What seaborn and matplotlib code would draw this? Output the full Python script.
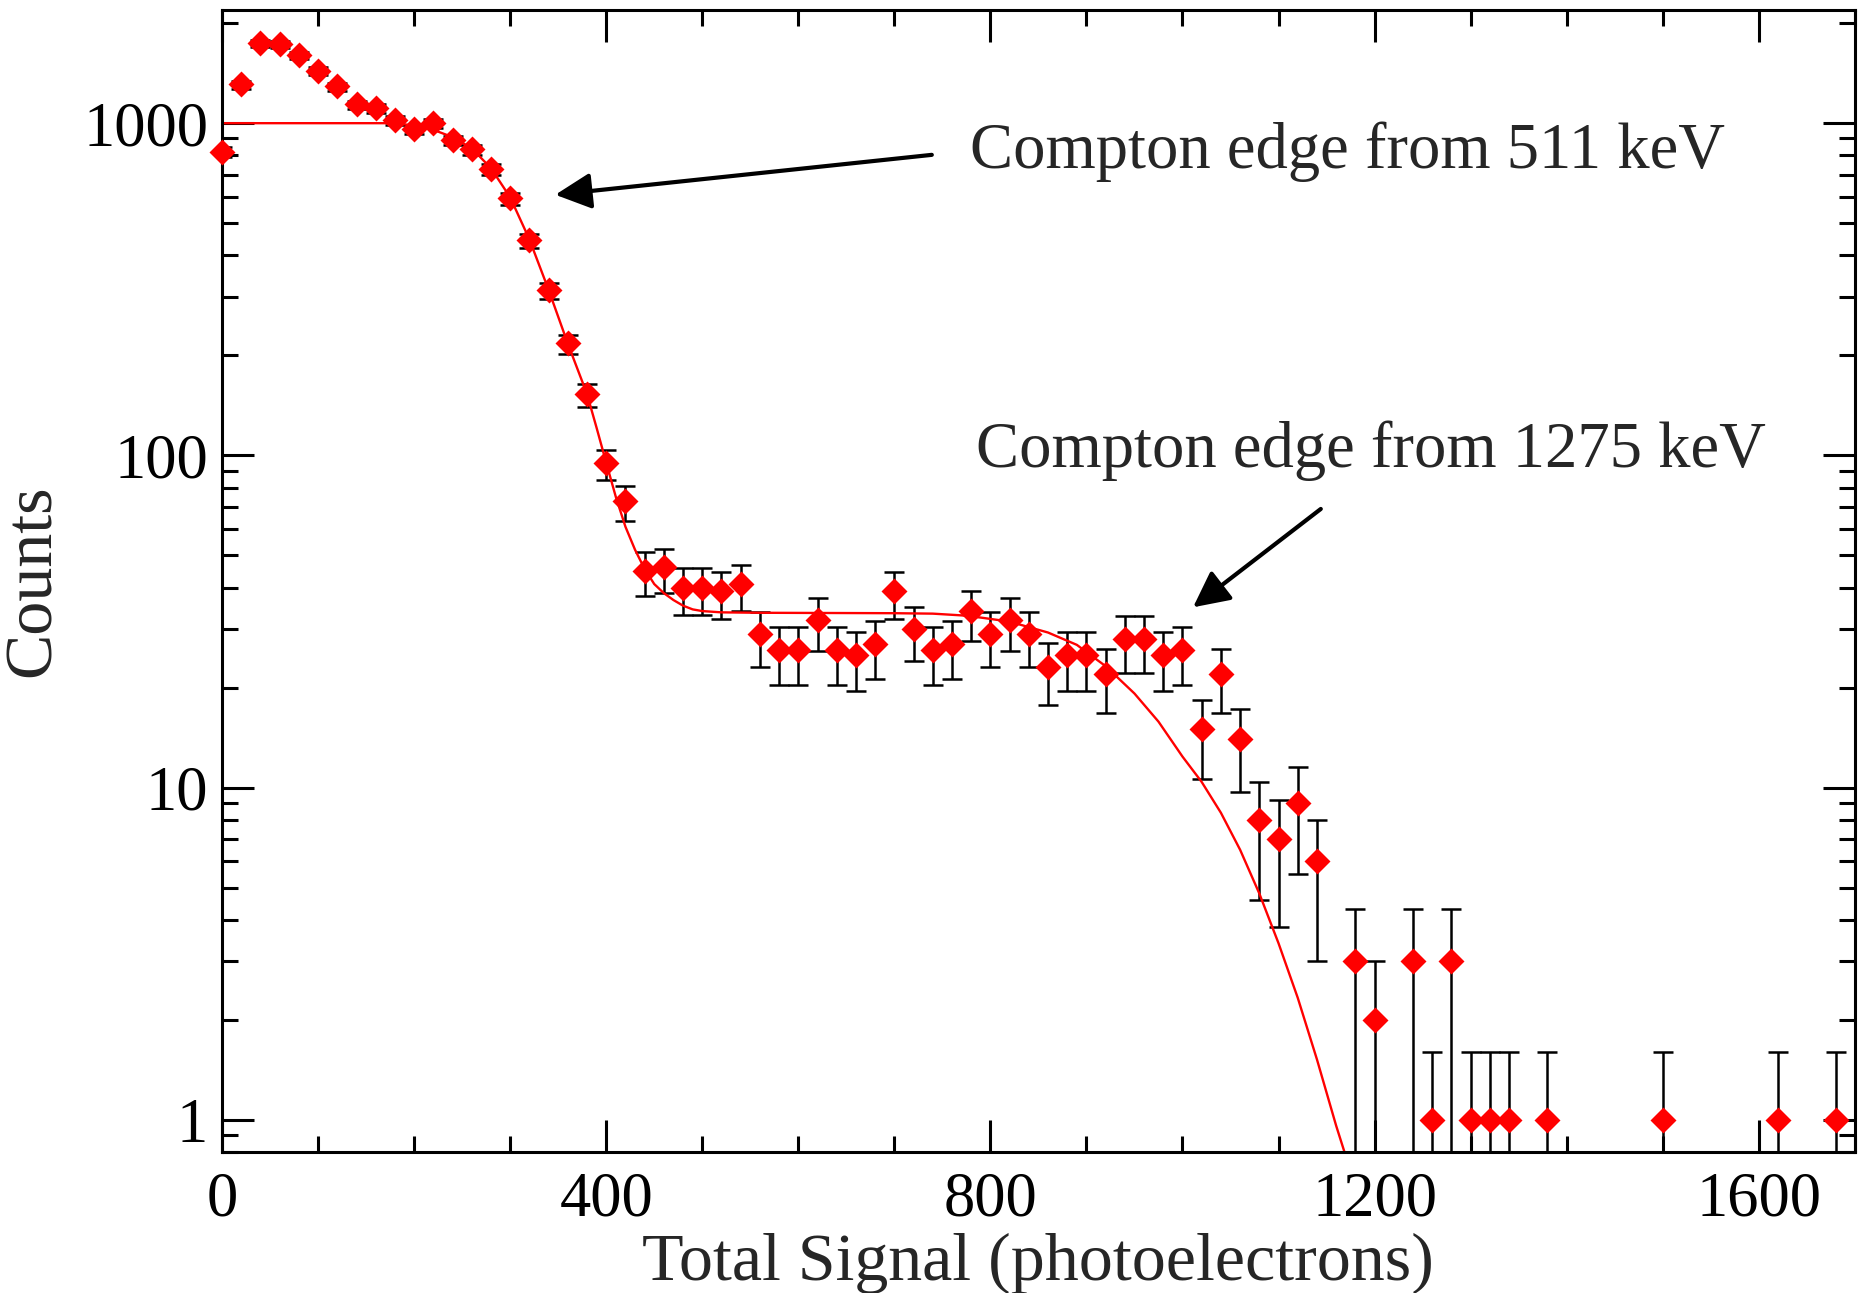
import numpy as np
import pandas as pd
import matplotlib
matplotlib.use("Agg")
import matplotlib.pyplot as plt
import matplotlib.ticker as mticker
import seaborn as sns

# binned spectrum (bin position in photoelectrons, counts per bin)
signal = [0, 20, 40, 60, 80, 100, 120, 140, 160, 180,
          200, 220, 240, 260, 280, 300, 320, 340, 360, 380,
          400, 420, 440, 460, 480, 500, 520, 540, 560, 580,
          600, 620, 640, 660, 680, 700, 720, 740, 760, 780,
          800, 820, 840, 860, 880, 900, 920, 940, 960, 980,
          1000, 1020, 1040, 1060, 1080, 1100, 1120, 1140, 1180, 1200,
          1240, 1260, 1280, 1300, 1320, 1340, 1380, 1500, 1620, 1680]
counts = [820, 1310, 1740, 1730, 1600, 1440, 1290, 1140, 1110, 1020,
          960, 1000, 890, 835, 730, 595, 445, 315, 218, 153,
          95, 73, 45, 46, 40, 40, 39, 41, 29, 26,
          26, 32, 26, 25, 27, 39, 30, 26, 27, 34,
          29, 32, 29, 23, 25, 25, 22, 28, 28, 25,
          26, 15, 22, 14, 8, 7, 9, 6, 3, 2,
          3, 1, 3, 1, 1, 1, 1, 1, 1, 1]
# error bars (below / above the point)
err_lo = [31, 40, 46, 46, 44, 42, 39, 37, 37, 35,
          34, 35, 33, 32, 30, 27, 23, 19.5, 16, 13.5,
          10.5, 9.4, 7.3, 7.4, 7, 7, 6.9, 7, 5.9, 5.6,
          5.6, 6.2, 5.6, 5.5, 5.7, 6.9, 6, 5.6, 5.7, 6.4,
          5.9, 6.2, 5.9, 5.3, 5.5, 5.5, 5.2, 5.8, 5.8, 5.5,
          5.6, 4.4, 5.2, 4.3, 3.4, 3.2, 3.5, 3.0, 2.6, 1.6,
          2.6, 0.9, 2.6, 0.9, 0.9, 0.9, 0.9, 0.9, 0.9, 0.9]
err_hi = [26, 33, 38, 37, 36, 34, 32, 30, 30, 29,
          28, 28, 27, 26, 24, 22, 19, 16, 13, 11,
          9, 7.7, 6.2, 6.2, 5.7, 5.7, 5.6, 5.8, 4.8, 4.5,
          4.5, 5.1, 4.5, 4.5, 4.7, 5.6, 4.9, 4.5, 4.7, 5.2,
          4.8, 5.1, 4.8, 4.3, 4.5, 4.5, 4.2, 4.8, 4.8, 4.5,
          4.5, 3.4, 4.2, 3.2, 2.4, 2.2, 2.5, 2.0, 1.3, 1.0,
          1.3, 0.6, 1.3, 0.6, 0.6, 0.6, 0.6, 0.6, 0.6, 0.6]

# fitted curve, sampled off the plot
fit_signal = [0, 100, 170, 190, 200, 220, 240, 260, 280, 300,
              320, 340, 360, 380, 390, 400, 410, 420, 430, 440,
              450, 460, 470, 480, 490, 500, 520, 560, 700, 740,
              770, 790, 810, 830, 860, 890, 920, 950, 975, 1000,
              1020, 1040, 1060, 1080, 1100, 1120, 1140, 1160, 1175]
fit_counts = [1000, 1000, 1000, 992, 982, 955, 908, 840, 732, 598,
              447, 315, 217, 153, 121, 95, 75, 61, 52, 45.5,
              41, 38.5, 36.7, 35.3, 34.4, 34, 33.7, 33.6, 33.5, 33.4,
              33.0, 32.5, 31.9, 31.0, 29.3, 26.9, 23.2, 19.2, 15.8, 12.4,
              10.4, 8.4, 6.5, 4.8, 3.4, 2.33, 1.52, 0.96, 0.7]

df = pd.DataFrame({'signal': signal, 'counts': counts})
fit = pd.DataFrame({'signal': fit_signal, 'counts': fit_counts})

sns.set_style("ticks")
plt.rcParams['font.family'] = ['Liberation Serif', 'DejaVu Serif']

fig = plt.figure(figsize=(18.66, 12.93), dpi=100)
ax = fig.add_axes([0.119, 0.109, 0.875, 0.8832])

ax.errorbar(df['signal'], df['counts'], yerr=[err_lo, err_hi], fmt='none',
            ecolor='black', elinewidth=1.8, capsize=7, capthick=1.8, zorder=2)
sns.lineplot(data=fit, x='signal', y='counts', color='red', linewidth=1.7,
             sort=False, estimator=None, ax=ax, zorder=2.5)
sns.scatterplot(data=df, x='signal', y='counts', marker='D', s=175, color='red',
                linewidth=0, ax=ax, zorder=3, clip_on=False)

ax.set_yscale('log')
ax.set_xlim(0, 1700)
ax.set_ylim(0.8, 2190)

ax.xaxis.set_major_locator(mticker.MultipleLocator(400))
ax.xaxis.set_minor_locator(mticker.MultipleLocator(100))
ax.yaxis.set_major_locator(mticker.FixedLocator([1, 10, 100, 1000]))
ax.yaxis.set_minor_locator(mticker.LogLocator(base=10, subs=np.arange(2, 10)))
ax.yaxis.set_major_formatter(mticker.FuncFormatter(lambda v, p: f"{v:g}"))
ax.yaxis.set_minor_formatter(mticker.NullFormatter())

ax.tick_params(which='both', direction='in', top=True, right=True, width=2.2,
               labelsize=45, colors='black')
ax.tick_params(which='major', length=23)
ax.tick_params(which='minor', length=11.5)
ax.tick_params(axis='x', pad=14)
ax.tick_params(axis='y', pad=10)
for sp in ax.spines.values():
    sp.set_linewidth(2.2)
    sp.set_color('black')

ax.set_xlabel('Total Signal (photoelectrons)', fontsize=49, labelpad=2)
ax.set_ylabel('Counts', fontsize=49, labelpad=14)

# annotations for the two Compton edges
arrow = dict(arrowstyle='-|>,head_length=1.1,head_width=0.55',
             mutation_scale=20, lw=3, color='black', shrinkA=0, shrinkB=0)
ax.annotate('', xy=(347, 609), xytext=(739, 803), arrowprops=arrow)
ax.text(779, 734, 'Compton edge from 511 keV', fontsize=46.5, ha='left', va='baseline')
ax.annotate('', xy=(1011, 34.9), xytext=(1144, 69), arrowprops=arrow)
ax.text(785, 92.4, 'Compton edge from 1275 keV', fontsize=46.5, ha='left', va='baseline')

plt.savefig('out.png', dpi=100)
